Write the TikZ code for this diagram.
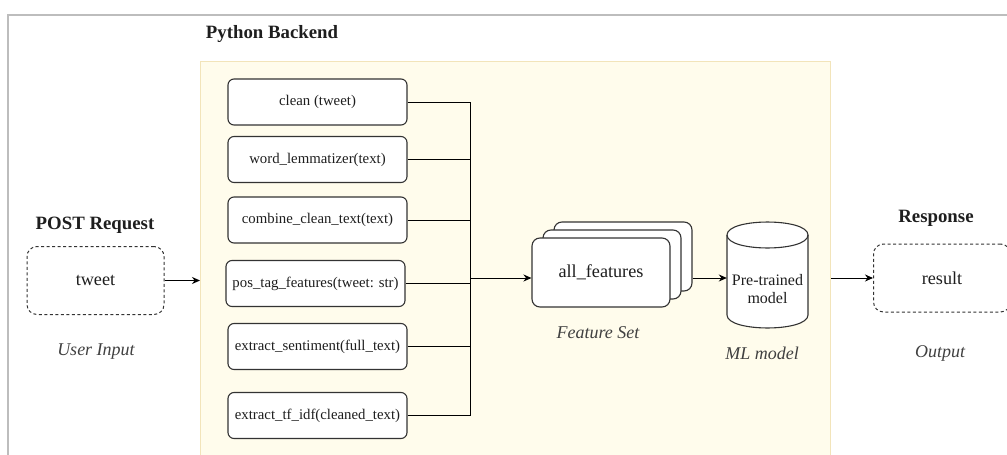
\documentclass[tikz,border=0pt]{standalone}
\usepackage{fontspec}
\IfFontExistsTF{LiberationSerif-Regular.ttf}{%
  \setmainfont{LiberationSerif}[Extension=.ttf, UprightFont=*-Regular,
    BoldFont=*-Bold, ItalicFont=*-Italic, BoldItalicFont=*-BoldItalic]}{%
  \setmainfont{Liberation Serif}}
\usetikzlibrary{arrows.meta}
\definecolor{panelfill}{HTML}{FFFCEC}
\definecolor{panelline}{HTML}{F2E4BA}
\definecolor{framegray}{HTML}{BDBDBD}
\definecolor{ink}{HTML}{1E1E1E}
\definecolor{edge}{HTML}{333333}
\tikzset{
  fnbox/.style={draw=edge, line width=1.1pt, rounded corners=6pt, fill=white,
    minimum width=179, minimum height=46, inner sep=0pt, text=ink,
    font=\rmfamily\fontsize{14.8}{17}\selectfont},
  iobox/.style={draw=edge, line width=1pt, dash pattern=on 3pt off 2.5pt,
    rounded corners=10pt, fill=white, minimum width=137, minimum height=68,
    inner sep=0pt, text=ink, font=\rmfamily\fontsize{18.2}{21}\selectfont},
  stackbox/.style={draw=edge, line width=1.1pt, rounded corners=8pt, fill=white,
    minimum width=138, minimum height=69, inner sep=0pt, text=ink,
    font=\rmfamily\fontsize{18.2}{21}\selectfont},
  heading/.style={text=ink, font=\rmfamily\fontsize{18.8}{22}\selectfont\bfseries},
  caption/.style={text=ink!85, font=\rmfamily\fontsize{18}{21}\selectfont\itshape},
  wire/.style={draw=black, line width=1pt},
  arr/.style={wire, -{Stealth[length=8pt,width=7pt]}},
}
\begin{document}
\begin{tikzpicture}[x=1pt, y=-1pt]
\useasboundingbox (0,0) rectangle (1007,455);
\clip (0,0) rectangle (1007,455);

% outer frame (top and left edges)
\draw[framegray, line width=2pt] (8,460) -- (8,15) -- (1010,15);

% backend panel
\node[draw=panelline, line width=1.2pt, fill=panelfill, minimum width=630,
  minimum height=420, anchor=north west, inner sep=0pt] (backend) at (200,61) {};
\node[heading] (backendtitle) at (272,34) {Python Backend};

% preprocessing functions
\node[fnbox] (clean)   at (317.5,102)   {clean (tweet)};
\node[fnbox] (lemma)   at (317.5,159.5) {word\_lemmatizer(text)};
\node[fnbox] (combine) at (317.5,220)   {combine\_clean\_text(text)};
\node[fnbox] (postag)  at (315.5,283.5) {pos\_tag\_features(tweet: str)};
\node[fnbox] (senti)   at (317.5,346.5) {extract\_sentiment(full\_text)};
\node[fnbox] (tfidf)   at (317.5,415.5) {extract\_tf\_idf(cleaned\_text)};

% bus collecting the features
\coordinate (busx) at (470,0);
\coordinate (join) at (470,278);
\foreach \f in {clean,lemma,combine,postag,senti,tfidf}
  \draw[wire] (\f.east) -- (\f.east -| busx);
\draw[wire] (clean.east -| busx) -- (tfidf.east -| busx);

% input side
\node[heading] (posttitle) at (95,225) {POST Request};
\node[iobox] (tweet) at (95.5,280.5) {tweet};
\node[caption] (userin) at (96,352) {User Input};
\draw[arr] (tweet.east) -- (tweet.east -| backend.west);

% feature set stack
\node[stackbox] (featback) at (623,256.5) {};
\node[stackbox] (featmid)  at (612,264.5) {};
\node[stackbox] (feat)     at (601,272.5) {all\_features};
\node[caption] (featcap) at (598,333) {Feature Set};
\draw[arr] (join) -- (join -| feat.west);

% pre-trained model cylinder
\node[minimum width=81, minimum height=100, inner sep=0pt] (cyl) at (767.5,278) {};
\draw[draw=edge, line width=1.1pt, fill=white]
  (727,235) -- (727,315) .. controls (727,332.3) and (808,332.3) .. (808,315)
  -- (808,235) .. controls (808,217.7) and (727,217.7) .. (727,235) -- cycle;
\draw[draw=edge, line width=1.1pt]
  (727,235) .. controls (727,252.3) and (808,252.3) .. (808,235);
\node[align=center, text=ink, font=\rmfamily\fontsize{16}{18}\selectfont] (cyltext) at (767.5,289) {Pre-trained\\model};
\node[caption] (mlcap) at (762,353) {ML model};
\draw[arr] (featback.east |- cyl.west) -- (cyl.west);

% output side
\node[heading] (resptitle) at (936,218) {Response};
\node[iobox] (result) at (942,278) {result};
\node[caption] (outcap) at (940,353) {Output};
\draw[arr] (backend.east |- result.west) -- (result.west);
\end{tikzpicture}
\end{document}
